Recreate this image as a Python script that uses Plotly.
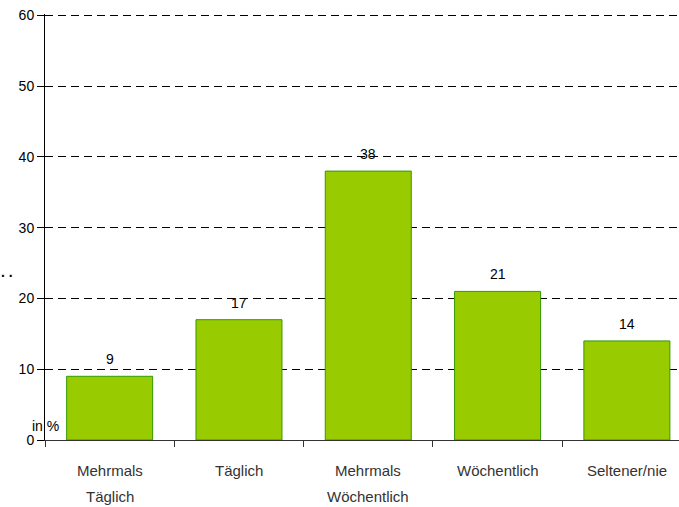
import plotly.graph_objects as go

categories = ["Mehrmals Täglich", "Täglich", "Mehrmals Wöchentlich", "Wöchentlich", "Seltener/nie"]
label_line1 = ["Mehrmals", "Täglich", "Mehrmals", "Wöchentlich", "Seltener/nie"]
label_line2 = ["Täglich", "", "Wöchentlich", "", ""]
values = [9, 17, 38, 21, 14]
y_ticks = [0, 10, 20, 30, 40, 50, 60]

FONT = "Liberation Sans, Arial, sans-serif"

fig = go.Figure()
fig.add_trace(go.Bar(
    x=categories, y=values,
    width=0.665,
    marker=dict(color="#99CC00", line=dict(color="#339900", width=1)),
    hoverinfo="skip",
))

for c, v in zip(categories, values):
    fig.add_annotation(x=c, y=v, text=str(v), showarrow=False, yanchor="bottom",
                       yshift=7, font=dict(family=FONT, size=14, color="#000000"))

for c, l1, l2 in zip(categories, label_line1, label_line2):
    fig.add_annotation(x=c, xref="x", yref="paper", y=0, text=l1, showarrow=False,
                       yanchor="middle", yshift=-30,
                       font=dict(family=FONT, size=15, color="#333333"))
    if l2:
        fig.add_annotation(x=c, xref="x", yref="paper", y=0, text=l2, showarrow=False,
                           yanchor="middle", yshift=-56,
                           font=dict(family=FONT, size=15, color="#333333"))

fig.add_annotation(xref="paper", yref="y", x=0, y=0, xanchor="center", yanchor="middle",
                   text="in %", showarrow=False, xshift=0, yshift=14,
                   font=dict(family=FONT, size=14, color="#000000"))
fig.add_annotation(xref="paper", yref="paper", x=0, y=0.395, xanchor="left", yanchor="middle",
                   xshift=-46, text="<b>. .</b>", showarrow=False,
                   font=dict(family=FONT, size=14, color="#000000"))

fig.update_layout(
    width=679, height=507,
    margin=dict(l=45, r=0, t=14, b=67),
    plot_bgcolor="white", paper_bgcolor="white",
    showlegend=False,
    font=dict(family=FONT, size=14, color="#000000"),
    xaxis=dict(
        type="category",
        range=[-0.5, 4.403],
        tickson="boundaries",
        ticks="outside", ticklen=6, tickcolor="#333333",
        showline=True, linecolor="#333333", linewidth=1,
        showgrid=False,
        showticklabels=False,
        automargin=False,
    ),
    yaxis=dict(
        range=[0, 60.2],
        tickvals=y_ticks,
        ticks="outside", ticklen=7, tickcolor="#000000",
        showline=True, linecolor="#000000", linewidth=1,
        showgrid=True, gridcolor="#000000", gridwidth=1, griddash="8px,5px",
        zeroline=False,
        automargin=False,
        tickfont=dict(family=FONT, size=14, color="#000000"),
    ),
)

fig.write_html("out.html",
               config={"displayModeBar": False},
               post_script="document.body.style.margin='0';document.body.style.overflow='hidden';")
